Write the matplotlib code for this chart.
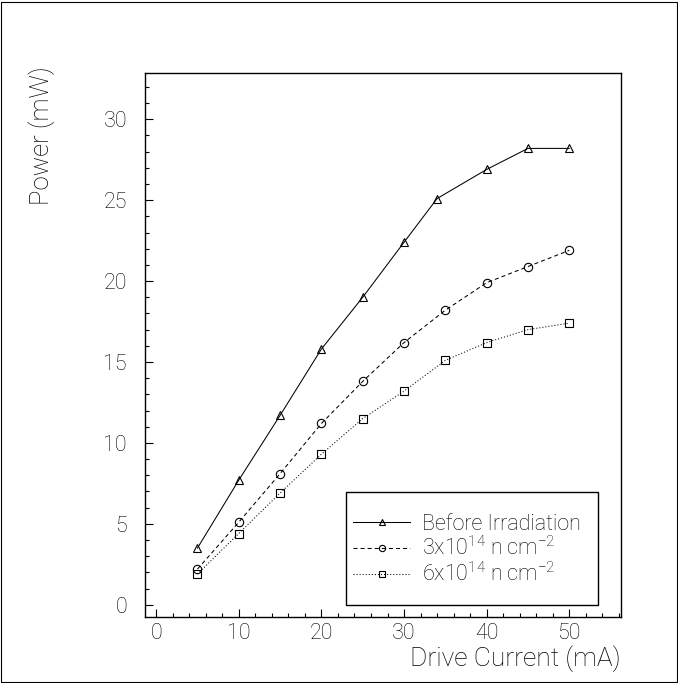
import matplotlib
matplotlib.use("Agg")
import matplotlib.pyplot as plt
from matplotlib.patches import Rectangle
from matplotlib.ticker import MultipleLocator

# Data
current_before = [5, 10, 15, 20, 25, 30, 34, 40, 45, 50]
power_before = [3.5, 7.7, 11.7, 15.8, 19.0, 22.4, 25.1, 26.9, 28.2, 28.2]

current_3e14 = [5, 10, 15, 20, 25, 30, 35, 40, 45, 50]
power_3e14 = [2.2, 5.1, 8.1, 11.2, 13.8, 16.2, 18.2, 19.9, 20.9, 21.9]

current_6e14 = [5, 10, 15, 20, 25, 30, 35, 40, 45, 50]
power_6e14 = [1.9, 4.4, 6.9, 9.3, 11.5, 13.2, 15.1, 16.2, 17.0, 17.4]

labels = ["Before Irradiation",
          r"3x10$^{14}$ n cm$^{-2}$",
          r"6x10$^{14}$ n cm$^{-2}$"]

FONT = 'Roboto'
WEIGHT = 'light'
plt.rcParams['font.family'] = [FONT, 'DejaVu Sans']
plt.rcParams['font.weight'] = WEIGHT
plt.rcParams['axes.labelweight'] = WEIGHT
plt.rcParams['mathtext.fontset'] = 'custom'
plt.rcParams['mathtext.rm'] = FONT + ':light'
plt.rcParams['mathtext.it'] = FONT + ':light'
plt.rcParams['lines.scale_dashes'] = False

W, H = 678, 683
fig = plt.figure(figsize=(W / 100, H / 100), dpi=100)
fig.patch.set_facecolor('white')
ax = fig.add_axes([145 / W, 1 - 617 / H, 475.5 / W, 544 / H])

lw = 0.75
ax.plot(current_before, power_before, color='black', lw=lw, linestyle='-',
        marker='^', markersize=6, markerfacecolor='none', markeredgecolor='black',
        markeredgewidth=0.8, label=labels[0])
ax.plot(current_3e14, power_3e14, color='black', lw=lw, linestyle=(0, (2.9, 2.2)),
        marker='o', markersize=6, markerfacecolor='none', markeredgecolor='black',
        markeredgewidth=0.8, label=labels[1])
ax.plot(current_6e14, power_6e14, color='black', lw=lw, linestyle=(0, (0.75, 1.45)),
        marker='s', markersize=5.5, markerfacecolor='none', markeredgecolor='black',
        markeredgewidth=0.8, label=labels[2])

ax.set_xlim(-1.35, 56.2)
ax.set_ylim(-0.76, 32.86)

ax.xaxis.set_major_locator(MultipleLocator(10))
ax.xaxis.set_minor_locator(MultipleLocator(2))
ax.yaxis.set_major_locator(MultipleLocator(5))
ax.yaxis.set_minor_locator(MultipleLocator(1))

ax.tick_params(which='both', direction='in', top=False, right=False,
               width=0.8, labelsize=15.5, colors='black')
ax.tick_params(which='major', length=6)
ax.tick_params(which='minor', length=3)
ax.tick_params(axis='x', pad=4)
ax.tick_params(axis='y', pad=13)
for s in ax.spines.values():
    s.set_linewidth(1.0)

ax.set_xlabel("Drive Current (mA)", fontsize=19, loc='right')
ax.xaxis.set_label_coords(1.0, -0.052)
ax.xaxis.label.set_va('top')
ax.set_ylabel("Power (mW)", fontsize=18.5, loc='top')
ax.yaxis.set_label_coords(-0.19, 1.012)

leg = ax.legend(loc='center left', bbox_to_anchor=(0.4374, 0.1232),
                borderaxespad=0, borderpad=0, fontsize=15.5, frameon=False,
                handlelength=2.65, handletextpad=0.55, labelspacing=0.1,
                markerscale=0.75)
ax.add_patch(Rectangle((0.4227, 0.0221), 0.530, 0.2077, transform=ax.transAxes,
                       fill=False, edgecolor='black', linewidth=1.0, zorder=5))

fig.add_artist(Rectangle((1 / W, 1 / H), (W - 2.5) / W, (H - 2.5) / H,
                         transform=fig.transFigure, fill=False,
                         edgecolor='black', linewidth=0.8))

fig.savefig("out.png", dpi=100)
